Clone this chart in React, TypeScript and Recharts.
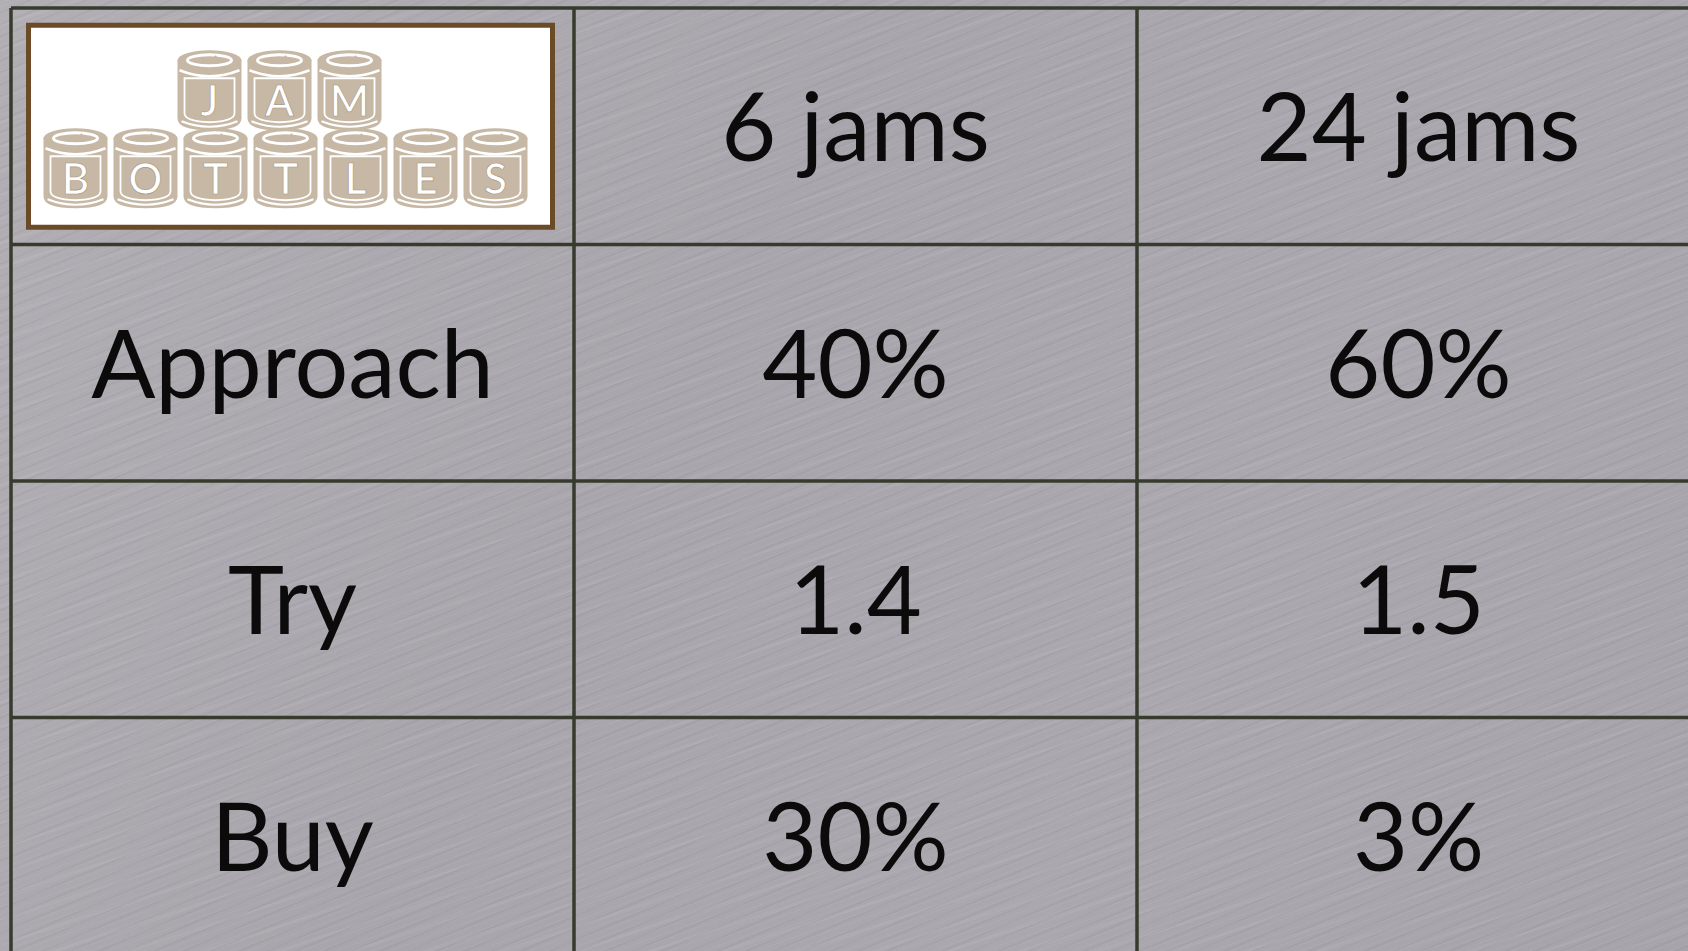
import { CartesianGrid, Scatter, ScatterChart, XAxis, YAxis } from "recharts";

/** --------- Table contents --------- */
const columnHeads = ["6 jams", "24 jams"];
const rowHeads = ["Approach", "Try", "Buy"];
const sixJams = ["40%", "1.4", "30%"];
const twentyFourJams = ["60%", "1.5", "3%"];
const logoTop = ["J", "A", "M"];
const logoBottom = ["B", "O", "T", "T", "L", "E", "S"];

const colTicks = [0, 1, 2, 3];
const rowTicks = [0, 1, 2, 3, 4];

// one point per cell, centred in its cell
const cells = [
  { x: 0.5, y: 0.5, text: "", kind: "logo" },
  ...columnHeads.map((t, i) => ({ x: i + 1.5, y: 0.5, text: t, kind: "text" })),
  ...rowHeads.map((t, i) => ({ x: 0.5, y: i + 1.5, text: t, kind: "text" })),
  ...sixJams.map((t, i) => ({ x: 1.5, y: i + 1.5, text: t, kind: "text" })),
  ...twentyFourJams.map((t, i) => ({ x: 2.5, y: i + 1.5, text: t, kind: "text" })),
];

const CAN = "#c6b8a5";
const FONT = "Lato, 'Open Sans', sans-serif";

/** --------- Logo pieces --------- */
const Can = ({ x, y, letter }) => (
  <g transform={`translate(${x},${y})`}>
    <path d="M0,10 L0,68 Q0,80 32,80 Q64,80 64,68 L64,10 Z" fill={CAN} />
    <ellipse cx={32} cy={10} rx={32} ry={10} fill={CAN} />
    <ellipse cx={32} cy={10} rx={22} ry={5.5} fill="none" stroke="#fff" strokeWidth={3} />
    <path d="M24,10 Q32,15 40,9 L37,6" fill="none" stroke={CAN} strokeWidth={2.5} />
    <path d="M2,20 Q32,32 62,20" fill="none" stroke="#fff" strokeWidth={2.5} />
    <path
      d="M7,28 L57,28 L57,63 Q57,71 32,72 Q7,71 7,63 Z"
      fill="none"
      stroke="#fff"
      strokeWidth={1.8}
    />
    <path d="M4,71 Q32,82 60,71" fill="none" stroke="#fff" strokeWidth={2} />
    <text
      x={32}
      y={66}
      textAnchor="middle"
      fontSize={42}
      fontWeight={600}
      fontFamily={FONT}
      fill="#fff"
      stroke="#a89882"
      strokeWidth={0.7}
    >
      {letter}
    </text>
  </g>
);

const Logo = ({ cx, cy }) => {
  const lx = cx - 2;
  const ly = cy;
  return (
    <g>
      <rect x={lx - 262} y={ly - 101} width={524} height={202} fill="#fff" stroke="#6b4b27" strokeWidth={5} />
      {logoBottom.map((l, i) => (
        <Can key={`b${i}`} x={lx - 247 + i * 70} y={ly + 2} letter={l} />
      ))}
      {logoTop.map((l, i) => (
        <Can key={`t${i}`} x={lx - 113 + i * 70} y={ly - 76} letter={l} />
      ))}
    </g>
  );
};

/** --------- Cell renderer --------- */
const CellShape = (props) => {
  const { cx, cy, payload } = props;
  if (payload.kind === "logo") return <Logo cx={cx} cy={cy} />;
  return (
    <text x={cx} y={cy + 35} textAnchor="middle" fontSize={95} fontFamily={FONT} fill="#0b0b0b">
      {payload.text}
    </text>
  );
};

const metal = {
  backgroundColor: "#a9a6ad",
  backgroundImage: [
    "repeating-linear-gradient(160deg, rgba(255,255,255,0.045) 0px, rgba(255,255,255,0.045) 1px, transparent 1px, transparent 6px)",
    "repeating-linear-gradient(157deg, rgba(0,0,0,0.03) 0px, rgba(0,0,0,0.03) 2px, transparent 2px, transparent 11px)",
    "repeating-linear-gradient(162deg, rgba(255,255,255,0.05) 0px, rgba(255,255,255,0.05) 3px, transparent 3px, transparent 23px)",
    "linear-gradient(120deg, #b1aeb4 0%, #a8a5ac 40%, #aaa7ae 70%, #a6a3aa 100%)",
  ].join(","),
};

const App = () => (
  <div
    style={{
      position: "fixed",
      left: 0,
      top: 0,
      width: 1688,
      height: 951,
      overflow: "hidden",
      ...metal,
    }}
  >
    <ScatterChart width={1700} height={954} margin={{ top: 8, left: 11, right: 0, bottom: 0 }}>
      <XAxis type="number" dataKey="x" domain={[0, 3]} ticks={colTicks} hide />
      <YAxis type="number" dataKey="y" domain={[0, 4]} ticks={rowTicks} reversed hide />
      <CartesianGrid stroke="#363b2d" strokeWidth={3.5} />
      <Scatter data={cells} shape={CellShape} isAnimationActive={false} />
    </ScatterChart>
  </div>
);

export default App;
